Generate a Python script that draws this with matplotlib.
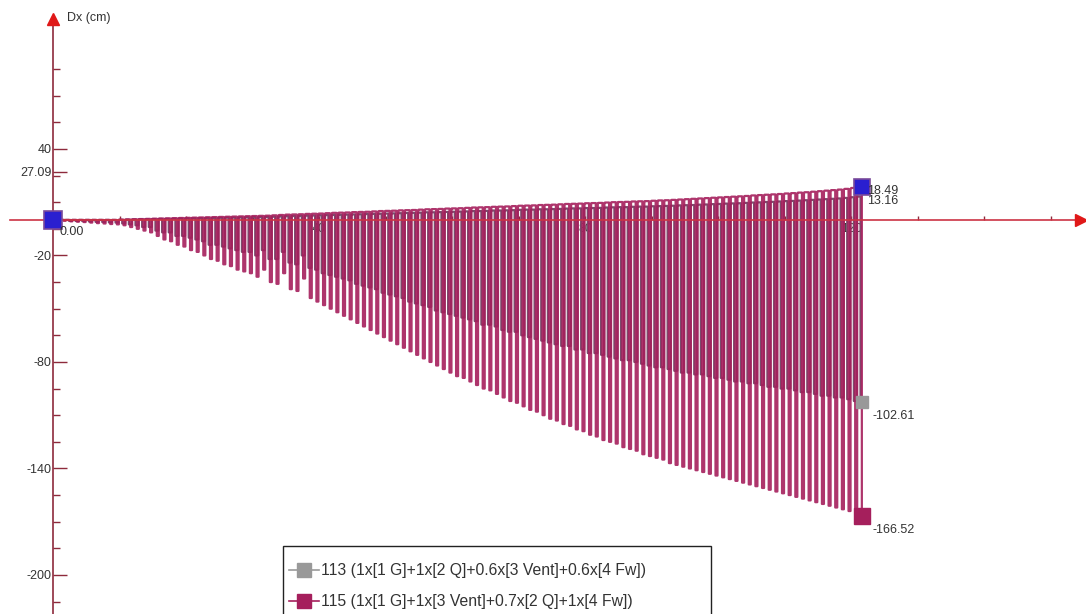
import numpy as np
import matplotlib
matplotlib.use('Agg')
import matplotlib.pyplot as plt
from matplotlib.patches import Rectangle

plt.rcParams['font.family'] = ['Liberation Sans', 'DejaVu Sans']

# element stations along the member (one per metre)
station = np.arange(122)

# combo 115 - top and bottom of each element stroke (cm)
bot_115 = [0, -0.5, -0.8, -1, -1.2, -1.5, -1.8, -2, -2.3, -2.5,
           -3, -4, -5, -6, -7, -9, -11, -12, -14, -15,
           -17, -18, -20, -22, -23, -25, -26, -28, -29, -30,
           -32, -28, -35, -36, -30, -39, -40, -33, -44, -46,
           -48, -50, -52, -54, -56, -58, -60, -62, -64, -66,
           -68, -70, -72, -74, -76, -78, -80, -82, -84, -86,
           -88, -89, -91, -93, -95, -96, -98, -100, -102, -103,
           -105, -107, -108, -110, -112, -113, -115, -116, -118, -119,
           -121, -122, -124, -125, -126, -128, -129, -130, -132, -133,
           -134, -135, -137, -138, -139, -140, -141, -142, -143, -144,
           -145, -146, -147, -148, -149, -150, -151, -152, -153, -154,
           -155, -156, -157, -158, -159, -160, -161, -162, -163, -164,
           -165, -166.52]
top_115 = [0, 0, 0, 0, 0, 0, 0, 0, 0, 0,
           0.2, 0.3, 0.4, 0.5, 0.6, 0.7, 0.8, 0.9, 1, 1.1,
           1.2, 1.3, 1.4, 1.5, 1.6, 1.7, 1.8, 1.9, 2, 2.1,
           2.2, 2.3, 2.4, 2.6, 2.8, 3, 3.1, 3.2, 3.4, 3.5,
           3.6, 3.8, 4, 4.1, 4.2, 4.4, 4.5, 4.6, 4.8, 5,
           5.1, 5.2, 5.4, 5.5, 5.6, 5.8, 6, 6.1, 6.2, 6.4,
           6.5, 6.6, 6.8, 7, 7.1, 7.2, 7.4, 7.5, 7.6, 7.8,
           8, 8.1, 8.2, 8.4, 8.5, 8.6, 8.8, 9, 9.1, 9.2,
           9.4, 9.5, 9.6, 9.8, 10, 10.1, 10.2, 10.4, 10.5, 10.6,
           10.8, 11, 11.1, 11.3, 11.5, 11.7, 11.9, 12.1, 12.3, 12.5,
           12.7, 12.9, 13.1, 13.3, 13.5, 13.8, 14, 14.2, 14.4, 14.6,
           14.9, 15.1, 15.4, 15.6, 15.9, 16.2, 16.5, 16.8, 17.1, 17.5,
           18, 18.49]

# combo 113
bot_113 = [0, 0, -0.5, -0.6, -0.7, -0.9, -1.1, -1.2, -1.4, -1.5,
           -2, -2.5, -3, -4, -4, -6, -7, -7, -9, -9,
           -10, -11, -12, -14, -14, -15, -16, -17, -18, -18,
           -20, -17, -22, -22, -18, -24, -25, -20, -27, -28,
           -30, -31, -32, -33, -34, -36, -37, -38, -39, -41,
           -42, -43, -44, -46, -47, -48, -49, -51, -52, -53,
           -54, -55, -56, -57, -59, -59, -60, -62, -63, -63,
           -65, -66, -67, -68, -69, -70, -71, -71, -73, -73,
           -75, -75, -76, -77, -78, -79, -79, -80, -81, -82,
           -83, -83, -84, -85, -86, -86, -87, -87, -88, -89,
           -89, -90, -91, -91, -92, -92, -93, -94, -94, -95,
           -95, -96, -97, -97, -98, -99, -99, -100, -100, -101,
           -102, -102.61]
top_113 = [0, 0, 0, 0, 0, 0, 0, 0, 0, 0,
           0.1, 0.2, 0.3, 0.4, 0.4, 0.5, 0.6, 0.6, 0.7, 0.8,
           0.9, 0.9, 1, 1.1, 1.1, 1.2, 1.3, 1.3, 1.4, 1.5,
           1.6, 1.6, 1.7, 1.8, 2, 2.1, 2.2, 2.3, 2.4, 2.5,
           2.6, 2.7, 2.8, 2.9, 3, 3.1, 3.2, 3.3, 3.4, 3.5,
           3.6, 3.7, 3.8, 3.9, 4, 4.1, 4.3, 4.3, 4.4, 4.5,
           4.6, 4.7, 4.8, 5, 5, 5.1, 5.3, 5.3, 5.4, 5.5,
           5.7, 5.8, 5.8, 6, 6, 6.1, 6.2, 6.4, 6.5, 6.5,
           6.7, 6.7, 6.8, 7, 7.1, 7.2, 7.2, 7.4, 7.5, 7.5,
           7.7, 7.8, 7.9, 8, 8.2, 8.3, 8.4, 8.6, 8.7, 8.9,
           9, 9.2, 9.3, 9.4, 9.6, 9.8, 9.9, 10.1, 10.2, 10.4,
           10.6, 10.7, 10.9, 11.1, 11.3, 11.5, 11.7, 11.9, 12.1, 12.4,
           12.8, 13.16]

label_113 = '113 (1x[1 G]+1x[2 Q]+0.6x[3 Vent]+0.6x[4 Fw])'
label_115 = '115 (1x[1 G]+1x[3 Vent]+0.7x[2 Q]+1x[4 Fw])'

y_major = [40, -20, -80, -140, -200]
y_minor = [85, 70, 55, 25, 10, -5, -35, -50, -65, -95, -110, -125,
           -155, -170, -185, -215]
x_ticks = [10, 20, 30, 40, 50, 60, 70, 80, 90, 100, 110, 120, 130, 140, 150]
x_labels = ['', '', '', '40', '', '', '', '80', '', '', '', '120', '', '', '']

c_115 = '#a51f5c'
c_113 = '#999999'
line_113 = '#7c4a6c'
axis_c = '#8e2a3c'
txt_c = '#333333'


def stroke_path(tops, bots, off, w):
    xs, ys = [], []
    for s, t, b in zip(station, tops, bots):
        xs += [s, s + off, s + off, s + off + w, s + off + w]
        ys += [t, t, b, b, t]
    # path ends at the bottom of the last element
    return xs[:-2], ys[:-2]


fig = plt.figure(figsize=(10.86, 6.14), dpi=100)
ax = fig.add_axes([0, 0, 1, 1])
ax.set_xlim(-7.97, 155.3)
ax.set_ylim(-222, 123.9)

x3, y3 = stroke_path(top_113, bot_113, 0.4, 0.45)
x5, y5 = stroke_path(top_115, bot_115, 0.6, 0.3)
ax.plot(x3, y3, color=line_113, lw=1.6, zorder=2)
ax.plot(x5, y5, color=c_115, lw=1.6, alpha=0.9, zorder=3)

# end markers
x_end = x5[-1]
ax.plot([0], [0], 's', ms=13, mfc='#2a1fd0', mec='#7a4a9a', mew=1.2, zorder=6)
ax.plot([x_end], [top_115[-1]], 's', ms=12, mfc='#2a1fd0', mec='#7a4a9a', mew=1.2, zorder=6)
ax.plot([x_end], [bot_113[-1]], 's', ms=9, color=c_113, zorder=6)
ax.plot([x_end], [bot_115[-1]], 's', ms=11, color=c_115, zorder=6)

ax.text(x_end + 0.8, top_115[-1] - 2.2, f'{top_115[-1]:.2f}', fontsize=9, color=txt_c, va='center', zorder=7)
ax.text(x_end + 0.8, top_113[-1] - 2.5, f'{top_113[-1]:.2f}', fontsize=9, color=txt_c, va='center', zorder=7)
ax.text(x_end + 1.6, bot_113[-1] - 8, f'{bot_113[-1]:.2f}', fontsize=9, color=txt_c, va='center')
ax.text(x_end + 1.6, bot_115[-1] - 8, f'{bot_115[-1]:.2f}', fontsize=9, color=txt_c, va='center')
ax.text(1.0, -7, '0.00', fontsize=9, color=txt_c, va='center', zorder=7)

# axes through the origin
for side in ['top', 'right']:
    ax.spines[side].set_visible(False)
ax.spines['left'].set_position(('data', 0))
ax.spines['bottom'].set_position(('data', 0))
ax.spines['left'].set_bounds(-222, 112)
ax.spines['bottom'].set_bounds(-6.5, 154)
ax.spines['left'].set_color(axis_c)
ax.spines['bottom'].set_color('#cc3344')
ax.spines['left'].set_linewidth(1.2)
ax.spines['bottom'].set_linewidth(1.2)
ax.spines['left'].set_zorder(4)
ax.spines['bottom'].set_zorder(4)
ax.plot([0], [113], '^', ms=9, color='#e01818', clip_on=False, zorder=8)
ax.plot([154.6], [0], '>', ms=9, color='#e01818', clip_on=False, zorder=8)

ax.set_yticks(y_major + [27.09])
ax.set_yticklabels([str(v) for v in y_major] + ['27.09'])
ax.set_yticks(y_minor, minor=True)
ax.tick_params(axis='y', which='major', direction='in', length=10, width=1,
               color=axis_c, labelsize=9, labelcolor=txt_c, pad=1)
ax.tick_params(axis='y', which='minor', direction='in', length=5, width=1, color=axis_c)
ax.set_xticks(x_ticks)
ax.set_xticklabels(x_labels)
ax.tick_params(axis='x', direction='in', length=3, width=1, color=axis_c,
               labelsize=9, labelcolor=txt_c, pad=2)
for lbl in ax.get_xticklabels():
    lbl.set_zorder(1)

ax.text(2.1, 114, 'Dx (cm)', fontsize=9, color=txt_c, va='center')

# legend box
ax.add_patch(Rectangle((0.2606, -0.05), 0.394, 0.161, transform=ax.transAxes,
                       fill=False, ec='#222222', lw=1, clip_on=False, zorder=9))
for yf, col, lab in [(0.071, c_113, label_113), (0.021, c_115, label_115)]:
    ax.plot([0.2665, 0.2935], [yf, yf], color=col, lw=1.2, transform=ax.transAxes, zorder=9)
    ax.plot([0.2795], [yf], 's', ms=10, color=col, transform=ax.transAxes, zorder=9)
    ax.text(0.2955, yf, lab, fontsize=11.3, color=txt_c, va='center',
            transform=ax.transAxes, zorder=9)

fig.savefig('out.png', dpi=100, facecolor='white')
